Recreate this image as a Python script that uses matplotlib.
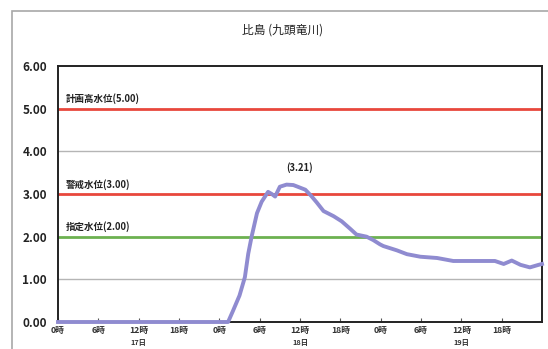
import matplotlib
matplotlib.use("Agg")
import matplotlib.pyplot as plt
from matplotlib.patches import Rectangle

plt.rcParams['font.family'] = ['Noto Sans CJK JP', 'DejaVu Sans']

title = "比島 (九頭竜川)"
hours = [0, 25.3, 26.0, 27.0, 27.8, 28.3, 28.8, 29.6, 30.3, 31.25, 31.8, 32.3, 33.0,
         34.0, 35.0, 35.5, 36.8, 37.7, 38.5, 39.5, 41.0, 42.2, 43.5, 44.4, 45.9,
         46.9, 47.9, 48.4, 50.4, 51.9, 53.9, 56.4, 58.8, 61.8, 65.0, 66.3, 67.5,
         68.8, 70.2, 71.5, 72.0]
levels = [0.0, 0.0, 0.25, 0.62, 1.05, 1.6, 2.0, 2.55, 2.82, 3.05, 3.0, 2.94, 3.17,
          3.22, 3.21, 3.18, 3.10, 2.95, 2.80, 2.60, 2.48, 2.36, 2.18, 2.05, 2.0,
          1.92, 1.82, 1.78, 1.68, 1.59, 1.53, 1.50, 1.43, 1.43, 1.43, 1.36, 1.44,
          1.34, 1.28, 1.34, 1.36]

ref_levels = [5.00, 3.00, 2.00]
ref_labels = ["計画高水位(5.00)", "警戒水位(3.00)", "指定水位(2.00)"]
ref_colors = ['#e8473c', '#e8473c', '#6cb150']

peak_label = "(3.21)"
peak_hour = 36.0
peak_value = 3.21

xtick_hours = list(range(0, 72, 6))
xtick_labels = ["0時", "6時", "12時", "18時"] * 3
date_hours = [12, 36, 60]
date_labels = ["17日", "18日", "19日"]

yticks = [0, 1, 2, 3, 4, 5, 6]

fig = plt.figure(figsize=(5.48, 3.49), dpi=100)
fig.patch.set_facecolor('white')

# outer frame
fig.add_artist(Rectangle((12/548, -0.1), 1.2, 1 - 11/349 + 0.1,
                         transform=fig.transFigure, fill=False,
                         edgecolor='#a8a8a8', linewidth=1.2))

ax = fig.add_axes([58/548, 1 - 322/349, (542-58)/548, (322-66)/349])
ax.set_xlim(0, 72)
ax.set_ylim(0, 6)

for y in [1, 4]:
    ax.axhline(y, color='#b5b5b5', linewidth=1.0, zorder=1)
for y, c in zip(ref_levels, ref_colors):
    ax.axhline(y, color=c, linewidth=2.0, zorder=2)
for y, t in zip(ref_levels, ref_labels):
    ax.text(1.2, y + 0.1, t, fontsize=6.8, fontweight='bold', color='#222222',
            ha='left', va='bottom', zorder=3)

ax.plot(hours, levels, color='#8f8bd0', linewidth=2.8, zorder=4,
        solid_joinstyle='round', clip_on=False)

ax.text(peak_hour, peak_value + 0.28, peak_label, fontsize=6.8,
        fontweight='bold', color='#222222', ha='center', va='bottom')

ax.set_yticks(yticks)
ax.set_yticklabels([f"{v:.2f}" for v in yticks], fontsize=8.5,
                   fontweight='bold', color='#222222')
ax.set_xticks(xtick_hours)
ax.set_xticklabels(xtick_labels, fontsize=6.3, fontweight='bold', color='#333333')
ax.tick_params(axis='y', length=0, pad=8)
ax.tick_params(axis='x', direction='in', length=3, pad=3, color='#555555')

for d, t in zip(date_hours, date_labels):
    ax.text(d, -0.40, t, fontsize=5.3, fontweight='bold', color='#333333',
            ha='center', va='top', clip_on=False)

for s in ax.spines.values():
    s.set_color('#222222')
    s.set_linewidth(1.4)
ax.spines['bottom'].set_zorder(3)

fig.text(283/548, 1 - 30/349, title, fontsize=8.5, ha='center', va='center',
         color='#222222')

fig.savefig("out.png", dpi=100)
